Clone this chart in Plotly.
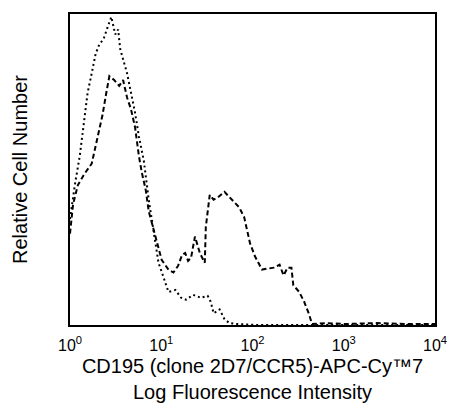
import plotly.graph_objects as go

# Isotype control (dotted) histogram: fluorescence intensity vs relative cell number
control_x = [1.00, 1.13, 1.28, 1.45, 1.56, 1.73, 1.91, 2.10, 2.33, 2.57, 2.84, 3.13, 3.37, 3.55,
             3.82, 4.22, 4.66, 5.15, 5.69, 6.44, 7.29, 8.24, 9.33, 10.6, 12.0, 14.3, 16.5, 18.7,
             22.3, 27.2, 32.3, 34.8, 37.5, 43.6, 49.3, 55.8, 68.1, 112, 302, 1045, 3614, 10000]
control_y = [109, 144, 174, 214, 239, 259, 279, 289, 294, 306, 317, 299, 304, 284,
             274, 259, 239, 219, 194, 169, 129, 94, 64, 49, 34, 36, 28, 26,
             31, 28, 30, 24, 12, 16, 6, 2, 1, 0, 0, 0, 0, 0]

# CD195 stained (dashed) histogram
stained_x = [1.00, 1.08, 1.22, 1.45, 1.73, 2.00, 2.27, 2.50, 2.70, 3.05, 3.46, 3.82, 4.22, 4.66,
             5.15, 5.69, 6.12, 6.76, 7.29, 8.05, 8.67, 10.1, 12.0, 13.6, 15.3, 16.9, 18.3, 19.7,
             21.2, 23.4, 26.5, 30.0, 30.8, 34.0, 37.5, 41.4, 49.3, 57.2, 64.8, 71.5, 81.0, 87.2,
             94.0, 106, 127, 147, 171, 198, 219, 242, 267, 280, 325, 368, 417, 449, 635, 1045,
             2200, 4630, 10000]
stained_y = [94, 124, 144, 156, 166, 194, 216, 239, 256, 252, 246, 252, 234, 222,
             204, 174, 157, 139, 117, 102, 91, 67, 57, 54, 61, 72, 74, 66,
             69, 91, 74, 64, 101, 134, 129, 131, 137, 131, 126, 121, 111, 97,
             84, 71, 57, 58, 59, 62, 51, 59, 59, 41, 34, 24, 11, 1, 2, 1,
             2, 1, 1]

tick_vals = [1, 10, 100, 1000, 10000]
tick_text = ["10<sup>0</sup>", "10<sup>1</sup>", "10<sup>2</sup>", "10<sup>3</sup>", "10<sup>4</sup>"]

fig = go.Figure()
fig.add_trace(go.Scatter(x=control_x, y=control_y, mode="lines",
                         line=dict(color="black", width=2, dash="2px,3px"),
                         showlegend=False))
fig.add_trace(go.Scatter(x=stained_x, y=stained_y, mode="lines",
                         line=dict(color="black", width=2, dash="5px,3px"),
                         showlegend=False))

font_family = "Liberation Sans, Arial, sans-serif"
fig.update_layout(
    width=459, height=412,
    margin=dict(l=70, r=18, t=14, b=78),
    paper_bgcolor="white", plot_bgcolor="white",
    hovermode=False,
    font=dict(family=font_family, color="black"),
    xaxis=dict(type="log", range=[0, 4], tickvals=tick_vals, ticktext=tick_text,
               showgrid=False, zeroline=False, ticks="", ticklabelstandoff=5,
               ticklabeloverflow="allow",
               showline=True, linecolor="black", linewidth=2, mirror=True,
               tickfont=dict(size=16),
               title=dict(text="CD195 (clone 2D7/CCR5)-APC-Cy™7<br>Log Fluorescence Intensity",
                          font=dict(size=20), standoff=6)),
    yaxis=dict(range=[0, 320], showticklabels=False, showgrid=False, zeroline=False,
               ticks="", showline=True, linecolor="black", linewidth=2, mirror=True,
               title=dict(text="Relative Cell Number", font=dict(size=20), standoff=35)),
)

# remove the page's default body margin so the figure fills the window exactly
fig.write_html(
    "out.html",
    config={"displayModeBar": False},
    post_script=("document.body.style.margin='0';"
                 "document.documentElement.style.overflow='hidden';"
                 "document.body.style.overflow='hidden';"),
)
